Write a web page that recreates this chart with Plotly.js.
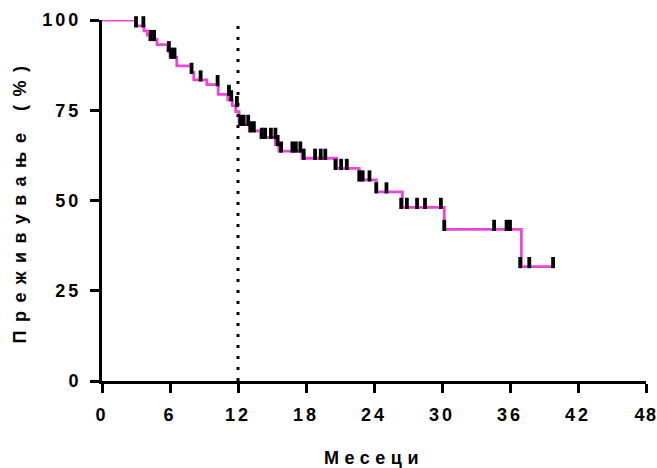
<!DOCTYPE html>
<html>
<head>
<meta charset="utf-8">
<script src="https://cdn.plot.ly/plotly-3.0.1.min.js"></script>
<style>
  body { margin: 0; background: #fff; }
  #chart { width: 657px; height: 468px; }
  .xtick text, .ytick text { letter-spacing: 3px; }
  .xtick:last-of-type text { letter-spacing: 1.5px; }
  .g-xtitle text { letter-spacing: 5.5px; }
  .g-ytitle text { letter-spacing: 8.5px; }
</style>
</head>
<body>
<div id="chart"></div>
<script>
// Kaplan-Meier step points (months, survival %)
const stepTimes = [0, 3.0, 3.7, 4.0, 4.2, 4.85, 5.8, 6.0, 6.6, 7.9, 8.1, 9.25, 10.25, 11.1, 11.5, 11.8, 12.1, 13.0, 14.0, 15.3, 15.6, 17.65, 20.7, 22.7, 24.2, 26.5, 30.2, 37.0];
const stepSurv  = [100, 98.4, 97.0, 95.8, 94.6, 93.2, 91.5, 89.7, 87.3, 85.5, 83.4, 82.1, 79.4, 77.9, 76.3, 74.6, 71.1, 69.3, 67.5, 65.5, 63.7, 61.7, 58.9, 55.7, 52.4, 48.1, 42.0, 31.7];
const lastFollowUp = 39.8;

// Censored observations (months, survival %)
const censorTimes = [3.0, 3.65, 4.3, 4.6, 5.9, 6.1, 6.4, 7.9, 8.7, 10.2, 11.2, 11.4, 11.9, 12.2, 12.5, 12.9, 13.1, 13.4, 14.1, 14.4, 14.9, 15.3, 15.5, 15.8, 16.8, 17.1, 17.5, 17.8, 18.8, 19.3, 19.7, 20.6, 21.1, 21.6, 22.7, 23.0, 23.6, 24.2, 25.1, 26.4, 26.9, 27.8, 28.5, 29.9, 30.2, 34.6, 35.7, 36.0, 36.9, 37.7, 39.8];
const censorSurv  = [98.4, 98.4, 94.6, 94.6, 91.5, 89.7, 89.7, 85.5, 83.4, 82.1, 79.4, 77.9, 76.3, 71.1, 71.1, 71.1, 69.3, 69.3, 67.5, 67.5, 67.5, 67.5, 65.5, 63.7, 63.7, 63.7, 63.7, 61.7, 61.7, 61.7, 61.7, 58.9, 58.9, 58.9, 55.7, 55.7, 55.7, 52.4, 52.4, 48.1, 48.1, 48.1, 48.1, 48.1, 42.0, 42.0, 42.0, 42.0, 31.7, 31.7, 31.7];

const xTicks = [0, 6, 12, 18, 24, 30, 36, 42, 48];
const yTicks = [0, 25, 50, 75, 100];
const landmarkMonth = 12;

const lineX = stepTimes.concat([lastFollowUp]);
const lineY = stepSurv.concat([stepSurv[stepSurv.length - 1]]);

const fam = 'Liberation Sans, Arial, sans-serif';
const tickFont = {family: fam, size: 18, color: '#000', weight: 'bold'};

const traces = [
  {
    x: lineX, y: lineY, mode: 'lines', type: 'scatter',
    line: {shape: 'hv', color: '#EE44D8', width: 2.8},
    cliponaxis: false, hoverinfo: 'skip', showlegend: false
  },
  {
    x: censorTimes, y: censorSurv, mode: 'markers', type: 'scatter', yaxis: 'y2',
    marker: {symbol: 'line-ns', size: 8, color: '#000', line: {color: '#000', width: 3.8}},
    cliponaxis: false, hoverinfo: 'skip', showlegend: false
  }
];

const layout = {
  width: 657, height: 468,
  margin: {l: 102, r: 11, t: 20, b: 87},
  paper_bgcolor: '#fff', plot_bgcolor: '#fff',
  font: {family: fam, size: 17, color: '#000'},
  showlegend: false,
  xaxis: {
    range: [0, 48], tickvals: xTicks, ticktext: xTicks.map(String),
    showgrid: false, zeroline: false,
    showline: true, linecolor: '#000', linewidth: 3,
    ticks: 'outside', ticklen: 9, tickwidth: 3, tickcolor: '#000',
    ticklabeloverflow: 'allow', ticklabelstandoff: 6,
    tickfont: tickFont,
    title: {text: 'Месеци', font: {family: fam, size: 18, color: '#000', weight: 'bold'}, standoff: 30}
  },
  yaxis: {
    range: [0, 100], tickvals: yTicks, ticktext: yTicks.map(String),
    showgrid: false, zeroline: false,
    showline: true, linecolor: '#000', linewidth: 3,
    ticks: 'outside', ticklen: 9, tickwidth: 3, tickcolor: '#000',
    ticklabeloverflow: 'allow', ticklabelstandoff: 5,
    tickfont: tickFont,
    title: {text: 'Преживување (%)', font: {family: fam, size: 18, color: '#000', weight: 'bold'}, standoff: 12}
  },
  yaxis2: {
    overlaying: 'y', range: [-1.1, 98.9],
    visible: false, showgrid: false, zeroline: false, showline: false
  },
  shapes: [{
    type: 'line', xref: 'x', yref: 'y',
    x0: landmarkMonth, x1: landmarkMonth, y0: 0, y1: 100,
    line: {color: '#000', width: 3, dash: '3px,8px'}
  }]
};

Plotly.newPlot('chart', traces, layout, {staticPlot: true, displayModeBar: false});
</script>
</body>
</html>
